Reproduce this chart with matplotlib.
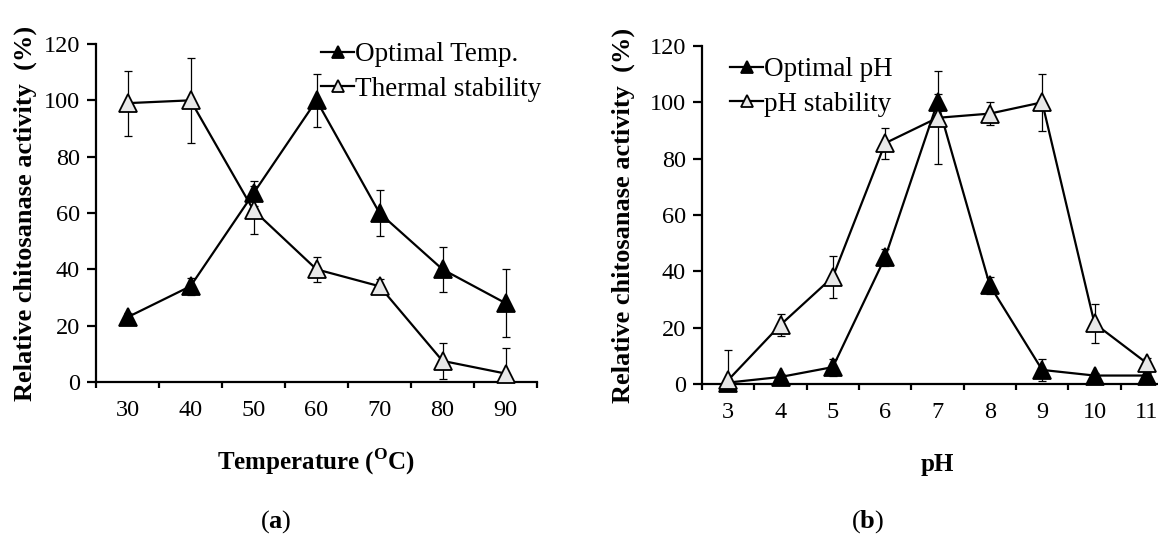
import numpy as np
import matplotlib
matplotlib.use("Agg")
import matplotlib.pyplot as plt

plt.rcParams['font.family'] = ['Liberation Serif', 'DejaVu Serif']
plt.rcParams['mathtext.fontset'] = 'custom'
plt.rcParams['mathtext.rm'] = 'Liberation Serif:bold'
plt.rcParams['mathtext.bf'] = 'Liberation Serif:bold'

# ---- data ----
temp_labels = ['30', '40', '50', '60', '70', '80', '90']
opt_temp = [23, 34, 67, 100, 60, 40, 28]
opt_temp_err = [1.5, 3, 4.5, 9.5, 8, 8, 12]
therm_stab = [99, 100, 61, 40, 34, 7.5, 3]
therm_stab_err = [11.5, 15, 8.5, 4.5, 2.5, 6.5, 9]

ph_labels = ['3', '4', '5', '6', '7', '8', '9', '10', '11']
opt_ph = [0.5, 2.5, 6, 45, 100, 35, 5, 3, 3]
opt_ph_err = [0.5, 1, 3, 3, 3, 3, 4, 1, 1]
ph_stab = [1.4, 21, 38, 85.5, 94.5, 96, 100, 21.5, 7.4]
ph_stab_err = [10.5, 4, 7.5, 5.5, 16.5, 4, 10, 7, 2]

yticks = [0, 20, 40, 60, 80, 100, 120]

W, H = 1158, 540
fig = plt.figure(figsize=(W / 100, H / 100), dpi=100)

FS_TICK = 17.5
FS_LAB = 19
FS_LEG = 19.5
open_fc = '#e8e8e8'


def style_axes(ax, labels):
    n = len(labels)
    ax.set_xlim(-0.5, n - 0.5)
    ax.set_ylim(0, 120)
    for s in ['top', 'right']:
        ax.spines[s].set_visible(False)
    for s in ['left', 'bottom']:
        ax.spines[s].set_linewidth(1.6)
    ax.set_xticks(np.arange(-0.5, n, 1.0))
    ax.set_xticklabels([])
    ax.set_xticks(np.arange(n), minor=True)
    ax.set_xticklabels(labels, minor=True, fontsize=FS_TICK)
    ax.tick_params(axis='x', which='major', direction='out', length=4.5, width=1.6)
    ax.tick_params(axis='x', which='minor', length=0, pad=13)
    ax.set_yticks(yticks)
    ax.set_yticklabels([str(v) for v in yticks], fontsize=FS_TICK)
    ax.tick_params(axis='y', direction='out', length=6.5, width=1.6, pad=5)
    ax.set_ylabel('Relative chitosanase activity  (%)', fontsize=FS_LAB, fontweight='bold')


def plot_series(ax, y, err, filled, label):
    x = np.arange(len(y))
    ax.errorbar(x, y, yerr=err, fmt='none', ecolor='black', elinewidth=0.9,
                capsize=2.6, capthick=0.9, zorder=2, clip_on=True)
    ax.plot(x, y, color='black', lw=1.6, marker='^', markersize=13,
            markerfacecolor='black' if filled else open_fc,
            markeredgecolor='black', markeredgewidth=1.3,
            label=label, zorder=3, clip_on=False)


def add_legend(ax, x_px, top_px):
    ax.legend(loc='upper left', bbox_to_anchor=(x_px / W, 1 - top_px / H),
              bbox_transform=fig.transFigure, frameon=False, fontsize=FS_LEG,
              handlelength=1.22, handletextpad=0.05, borderaxespad=0,
              borderpad=0, labelspacing=0.36, markerscale=0.68)


# ---- panel (a) ----
ax_a = fig.add_axes([96 / W, 1 - 382 / H, 441 / W, (382 - 44) / H])
style_axes(ax_a, temp_labels)
plot_series(ax_a, opt_temp, opt_temp_err, True, 'Optimal Temp.')
plot_series(ax_a, therm_stab, therm_stab_err, False, 'Thermal stability')
ax_a.set_xlabel(r'Temperature ($^{\mathrm{O}}$C)', fontsize=18, fontweight='bold')
ax_a.xaxis.set_label_coords(0.5, -0.237)
ax_a.xaxis.label.set_verticalalignment('center')
ax_a.yaxis.set_label_coords(-0.134, 0.5)
add_legend(ax_a, 321, 42)

# ---- panel (b) ----
ax_b = fig.add_axes([702 / W, 1 - 384 / H, 471 / W, (384 - 46) / H])
style_axes(ax_b, ph_labels)
plot_series(ax_b, opt_ph, opt_ph_err, True, 'Optimal pH')
plot_series(ax_b, ph_stab, ph_stab_err, False, 'pH stability')
ax_b.set_xlabel('pH', fontsize=18, fontweight='bold')
ax_b.xaxis.set_label_coords(0.5, -0.237)
ax_b.xaxis.label.set_verticalalignment('center')
ax_b.yaxis.set_label_coords(-0.142, 0.5)
add_legend(ax_b, 730, 57)

fig.text(276 / W, 1 - 522 / H, r'($\mathbf{a}$)', fontsize=FS_LAB, ha='center', va='center')
fig.text(868 / W, 1 - 522 / H, r'($\mathbf{b}$)', fontsize=FS_LAB, ha='center', va='center')

fig.savefig('out.png', dpi=100)
